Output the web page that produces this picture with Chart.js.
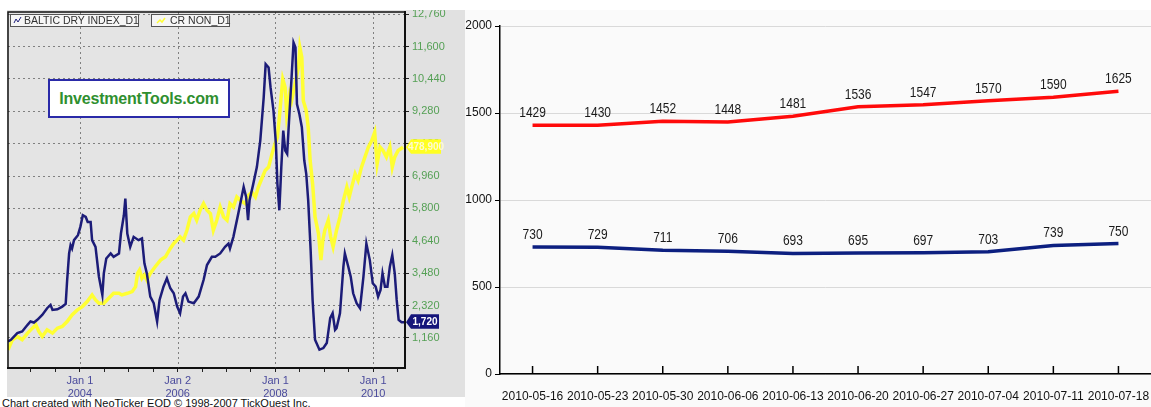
<!DOCTYPE html>
<html>
<head>
<meta charset="utf-8">
<script src="https://cdn.jsdelivr.net/npm/chart.js@4.4.0/dist/chart.umd.min.js"></script>
<style>
  body { margin: 0; width: 1151px; height: 407px; position: relative; overflow: hidden; background: #fff;
         font-family: "Liberation Sans", Arial, sans-serif; }
  #leftPanel { position: absolute; left: 7px; top: 10px; width: 458px; height: 387px; background: #e1e1e1; }
  #leftChart { position: absolute; left: 7px; top: 10px; }
  #rightPanel { position: absolute; left: 465px; top: 10px; width: 686px; height: 397px; background: #fafafa; }
  #rightChart { position: absolute; left: 465px; top: 0; }
  .legendBox { position: absolute; top: 14px; height: 11px; background: #f6f6f6; border: 1px solid #555;
               font-size: 10.5px; line-height: 11px; color: #333; white-space: nowrap; padding-left: 2px; }
  .legendBox svg { vertical-align: top; margin-right: 2px; }
  #watermark { position: absolute; left: 48px; top: 79px; width: 178px; height: 35px; background: #fff;
               border: 2px solid #2a2aa8; color: #2f8f2f; font-weight: bold; font-size: 16px;
               line-height: 35px; text-align: center; letter-spacing: -0.2px; }
  #credit { position: absolute; left: 2px; top: 397px; font-size: 11px; color: #111; white-space: nowrap; }
</style>
</head>
<body>
<div id="leftPanel"></div>
<canvas id="leftChart" width="458" height="387"></canvas>
<div class="legendBox" style="left:10px;width:125px;">
  <svg width="9" height="11"><polyline points="1,8 3,4 5,7 8,2" fill="none" stroke="#1f1f7a" stroke-width="1"/></svg>BALTIC DRY INDEX_D1
</div>
<div class="legendBox" style="left:151px;width:75px;">
  <svg width="14" height="11"><polyline points="3,8 6,5 8,7 11,3" fill="none" stroke="#ffff33" stroke-width="1.5"/></svg>CR NON_D1
</div>
<div id="watermark">InvestmentTools.com</div>
<div id="credit">Chart created with NeoTicker EOD © 1998-2007 TickQuest Inc.</div>

<div id="rightPanel"></div>
<canvas id="rightChart" width="686" height="407"></canvas>

<script>
// ---- left chart: Baltic Dry Index vs CR NON (x = decimal year) ----
const bdiYears = [2002.53, 2002.59, 2002.72, 2002.82, 2002.93, 2002.99, 2003.06, 2003.13, 2003.23, 2003.33,
  2003.40, 2003.44, 2003.54, 2003.64, 2003.71, 2003.74, 2003.78, 2003.81, 2003.84, 2003.88,
  2003.96, 2004.01, 2004.06, 2004.12, 2004.16, 2004.22, 2004.25, 2004.32, 2004.39, 2004.46,
  2004.49, 2004.54, 2004.63, 2004.69, 2004.80, 2004.84, 2004.90, 2004.93, 2004.97, 2005.03,
  2005.10, 2005.20, 2005.27, 2005.32, 2005.37, 2005.44, 2005.51, 2005.58, 2005.63, 2005.71,
  2005.78, 2005.85, 2005.92, 2005.99, 2006.05, 2006.11, 2006.16, 2006.22, 2006.33, 2006.43,
  2006.53, 2006.60, 2006.70, 2006.77, 2006.87, 2006.97, 2007.04, 2007.07, 2007.14, 2007.24,
  2007.35, 2007.40, 2007.44, 2007.47, 2007.54, 2007.62, 2007.69, 2007.76, 2007.80, 2007.86,
  2007.90, 2007.96, 2008.01, 2008.04, 2008.08, 2008.12, 2008.16, 2008.20, 2008.24, 2008.29,
  2008.33, 2008.37, 2008.41, 2008.44, 2008.49, 2008.54, 2008.59, 2008.63, 2008.67, 2008.72,
  2008.76, 2008.81, 2008.90, 2008.98, 2009.05, 2009.12, 2009.17, 2009.22, 2009.25, 2009.32,
  2009.39, 2009.42, 2009.49, 2009.54, 2009.59, 2009.66, 2009.73, 2009.80, 2009.86, 2009.93,
  2009.99, 2010.05, 2010.10, 2010.15, 2010.19, 2010.24, 2010.29, 2010.34, 2010.39, 2010.44,
  2010.48, 2010.52, 2010.58, 2010.63];
const bdiValues = [1035, 1095, 1332, 1392, 1630, 1749, 1713, 1808, 1987, 2225,
  2344, 2165, 2189, 2284, 2379, 3236, 4188, 4485, 4366, 4664,
  4842, 5140, 5556, 5496, 5318, 5318, 4664, 4426, 3355, 2701,
  3474, 4009, 4188, 4069, 4188, 4902, 5556, 6151, 4902, 4426,
  4783, 4664, 4723, 3831, 3474, 2641, 2403, 1749, 2522, 2998,
  3295, 2939, 2760, 2284, 2046, 2641, 2760, 2463, 2403, 2641,
  3236, 3771, 4069, 4069, 4188, 4426, 4545, 4366, 4783, 5615,
  6567, 6210, 5377, 6091, 6627, 7281, 8233, 9779, 10969, 10850,
  10136, 9303, 8114, 6686, 5734, 7281, 8590, 7876, 7757, 9303,
  10493, 11742, 11564, 9541, 9184, 8709, 7519, 7043, 6091, 4307,
  2522, 1095, 738, 797, 976, 1868, 2046, 1451, 1511, 2046,
  3712, 4188, 3712, 3355, 2760, 2403, 2225, 3355, 4545, 3950,
  3117, 2998, 2641, 2879, 3474, 2998, 2998, 3712, 4128, 3474,
  2522, 1808, 1720, 1720];

const crYears = [2002.53, 2002.62, 2002.72, 2002.82, 2002.93, 2003.03, 2003.10, 2003.16, 2003.23, 2003.33,
  2003.44, 2003.54, 2003.64, 2003.74, 2003.84, 2003.95, 2004.05, 2004.15, 2004.25, 2004.32,
  2004.39, 2004.49, 2004.59, 2004.69, 2004.80, 2004.86, 2004.97, 2005.07, 2005.14, 2005.18,
  2005.22, 2005.27, 2005.32, 2005.37, 2005.44, 2005.54, 2005.65, 2005.75, 2005.85, 2005.92,
  2005.99, 2006.05, 2006.12, 2006.19, 2006.26, 2006.33, 2006.39, 2006.46, 2006.53, 2006.60,
  2006.67, 2006.73, 2006.80, 2006.87, 2006.94, 2007.01, 2007.07, 2007.14, 2007.21, 2007.28,
  2007.38, 2007.45, 2007.52, 2007.59, 2007.65, 2007.72, 2007.79, 2007.86, 2007.93, 2007.99,
  2008.04, 2008.08, 2008.15, 2008.20, 2008.23, 2008.29, 2008.33, 2008.40, 2008.47, 2008.50,
  2008.54, 2008.57, 2008.63, 2008.67, 2008.71, 2008.76, 2008.81, 2008.88, 2008.93, 2008.97,
  2009.01, 2009.08, 2009.13, 2009.18, 2009.25, 2009.32, 2009.39, 2009.46, 2009.51, 2009.56,
  2009.63, 2009.69, 2009.76, 2009.83, 2009.90, 2009.97, 2010.03, 2010.08, 2010.14, 2010.20,
  2010.27, 2010.34, 2010.39, 2010.44, 2010.51, 2010.61];
const crValues = [738, 1095, 1213, 1095, 1332, 1511, 1630, 1392, 1213, 1451,
  1332, 1511, 1570, 1749, 1987, 2165, 2284, 2463, 2701, 2522,
  2403, 2403, 2582, 2760, 2760, 2701, 2760, 2820, 2998, 3474,
  3593, 3295, 3414, 3236, 3474, 3712, 3950, 4069, 4366, 4545,
  4664, 4783, 4664, 5020, 5496, 5615, 5377, 5734, 5972, 5734,
  5615, 5020, 5377, 5853, 5496, 5377, 5972, 5853, 6210, 6091,
  5972, 6270, 6389, 6210, 6567, 6864, 7162, 7281, 7757, 8114,
  8352, 9066, 10434, 10136, 9184, 9898, 9660, 10255, 10850, 11564,
  11207, 9660, 9303, 8709, 7519, 6686, 5496, 4902, 3950, 4664,
  5020, 5377, 4783, 4426, 5020, 5496, 6091, 6567, 6210, 6567,
  7043, 6805, 7281, 7638, 7995, 8233, 8530, 7400, 7995, 7876,
  7638, 7995, 7281, 7638, 7876, 7995];
const crLastLabel = '478,900';

const halfYearTicks = [2003, 2003.5, 2004, 2004.5, 2005, 2005.5, 2006, 2006.5, 2007, 2007.5,
  2008, 2008.5, 2009, 2009.5, 2010, 2010.5];
const yearTicks = [2004, 2006, 2008, 2010];
const yearTickLabels = [['Jan 1', '2004'], ['Jan 2', '2006'], ['Jan 1', '2008'], ['Jan 1', '2010']];
const priceTicks = [1160, 2320, 3480, 4640, 5800, 6960, 8120, 9280, 10440, 11600, 12760];

// ---- right chart: weekly values ----
const weeks = ['2010-05-16', '2010-05-23', '2010-05-30', '2010-06-06', '2010-06-13',
  '2010-06-20', '2010-06-27', '2010-07-04', '2010-07-11', '2010-07-18'];
const redValues = [1429, 1430, 1452, 1448, 1481, 1536, 1547, 1570, 1590, 1625];
const blueValues = [730, 729, 711, 706, 693, 695, 697, 703, 739, 750];

function noOverflow(scale) {
  scale.paddingTop = 0; scale.paddingBottom = 0; scale.paddingLeft = 0; scale.paddingRight = 0;
}

// plot box, Jan-1 grid lines and last value tags on the left chart
const leftDecor = {
  id: 'leftDecor',
  beforeDraw(chart) {
    const a = chart.chartArea, c = chart.ctx;
    c.save();
    c.fillStyle = '#e4e4e4';
    c.fillRect(a.left, a.top, a.right - a.left, a.bottom - a.top);
    c.restore();
  },
  beforeDatasetsDraw(chart) {
    const a = chart.chartArea, c = chart.ctx, xs = chart.scales.x;
    c.save();
    c.strokeStyle = '#808080';
    c.lineWidth = 1;
    c.setLineDash([2, 3]);
    yearTicks.forEach(v => {
      const x = Math.round(xs.getPixelForValue(v)) + 0.5;
      c.beginPath();
      c.moveTo(x, a.top);
      c.lineTo(x, a.bottom);
      c.stroke();
    });
    c.restore();
  },
  afterDraw(chart) {
    const a = chart.chartArea, c = chart.ctx, ys = chart.scales.y;
    c.save();
    c.strokeStyle = '#111';
    c.lineWidth = 1.5;
    c.strokeRect(a.left, a.top, a.right - a.left, a.bottom - a.top);
    const tags = [
      { value: bdiValues[bdiValues.length - 1], text: bdiValues[bdiValues.length - 1].toLocaleString('en-US'),
        bg: '#15157a', fg: '#ffffff', w: 28 },
      { value: crValues[crValues.length - 1], text: crLastLabel, bg: '#ffff22', fg: '#fffbd0', w: 30 }
    ];
    tags.forEach(t => {
      const y = ys.getPixelForValue(t.value);
      const x0 = a.right + 6;
      c.fillStyle = t.bg;
      c.beginPath();
      c.moveTo(a.right + 1, y);
      c.lineTo(x0, y - 8);
      c.lineTo(x0 + t.w, y - 8);
      c.lineTo(x0 + t.w, y + 6.5);
      c.lineTo(x0, y + 6.5);
      c.closePath();
      c.fill();
      c.fillStyle = t.fg;
      c.font = 'bold 10px "Liberation Sans", Arial';
      c.textAlign = 'center';
      c.textBaseline = 'middle';
      c.fillText(t.text, x0 + t.w / 2, y);
    });
    c.restore();
  }
};

new Chart(document.getElementById('leftChart'), {
  type: 'line',
  data: {
    datasets: [
      { label: 'BALTIC DRY INDEX_D1', data: bdiYears.map((x, i) => ({ x: x, y: bdiValues[i] })),
        borderColor: '#1c1c78', borderWidth: 2.5, pointRadius: 0, tension: 0 },
      { label: 'CR NON_D1', data: crYears.map((x, i) => ({ x: x, y: crValues[i] })),
        borderColor: '#ffff33', borderWidth: 3.5, pointRadius: 0, tension: 0 }
    ]
  },
  options: {
    responsive: false,
    animation: false,
    layout: { padding: { left: 1, top: 2, right: 0, bottom: 0 } },
    plugins: { legend: { display: false }, tooltip: { enabled: false } },
    scales: {
      x: {
        type: 'linear',
        min: 2002.53,
        max: 2010.65,
        afterBuildTicks(scale) { scale.ticks = halfYearTicks.map(v => ({ value: v })); },
        afterFit(scale) { scale.height = 29; noOverflow(scale); },
        ticks: {
          autoSkip: false, maxRotation: 0, padding: 2,
          color: '#4a4a9c', font: { family: '"Liberation Sans", Arial', size: 11 },
          callback(v) {
            const i = yearTicks.indexOf(v);
            return i >= 0 ? yearTickLabels[i] : '';
          }
        },
        grid: { drawOnChartArea: false, tickColor: '#222', tickLength: 4, tickWidth: 1 },
        border: { color: '#111', width: 2 }
      },
      y: {
        position: 'right',
        min: 83,
        max: 12840,
        afterBuildTicks(scale) { scale.ticks = priceTicks.map(v => ({ value: v })); },
        afterFit(scale) { scale.width = 60; noOverflow(scale); },
        ticks: {
          padding: 3, color: '#55a055', font: { family: '"Liberation Sans", Arial', size: 11 },
          callback: v => v.toLocaleString('en-US')
        },
        grid: { color: '#808080', tickColor: '#222', tickLength: 4 },
        border: { color: '#111', width: 2, dash: [2, 3] }
      }
    }
  },
  plugins: [leftDecor]
});

// value labels above the points + short tick marks on the right chart
const rightDecor = {
  id: 'rightDecor',
  afterDatasetsDraw(chart) {
    const c = chart.ctx;
    c.save();
    c.font = '15px "Liberation Sans", Arial';
    c.fillStyle = '#1a1a1a';
    c.textAlign = 'center';
    c.textBaseline = 'alphabetic';
    chart.data.datasets.forEach((ds, i) => {
      chart.getDatasetMeta(i).data.forEach((pt, j) => {
        c.save();
        c.translate(pt.x, pt.y - 8);
        c.scale(0.8, 1);
        c.fillText(String(ds.data[j]), 0, 0);
        c.restore();
      });
    });
    c.restore();
  },
  afterDraw(chart) {
    const c = chart.ctx, xs = chart.scales.x, a = chart.chartArea;
    c.save();
    c.strokeStyle = '#000';
    c.lineWidth = 1.5;
    weeks.forEach((w, i) => {
      const x = xs.getPixelForValue(i);
      c.beginPath();
      c.moveTo(x, a.bottom);
      c.lineTo(x, a.bottom - 8);
      c.stroke();
    });
    c.restore();
  }
};

new Chart(document.getElementById('rightChart'), {
  type: 'line',
  data: {
    labels: weeks,
    datasets: [
      { label: 'red', data: redValues, borderColor: '#ff0a0a', borderWidth: 3.5, pointRadius: 0, tension: 0 },
      { label: 'blue', data: blueValues, borderColor: '#0c1f80', borderWidth: 3.5, pointRadius: 0, tension: 0 }
    ]
  },
  options: {
    responsive: false,
    animation: false,
    layout: { padding: { top: 26, left: 0, right: 0, bottom: 0 } },
    plugins: { legend: { display: false }, tooltip: { enabled: false } },
    scales: {
      x: {
        offset: true,
        afterFit(scale) { scale.height = 33; noOverflow(scale); },
        ticks: {
          autoSkip: false, maxRotation: 0, padding: 15, color: '#111',
          font: { family: '"Liberation Sans", Arial', size: 12 }
        },
        grid: { color: 'rgba(0,0,0,0)', drawTicks: false },
        border: { color: '#000', width: 1.5 }
      },
      y: {
        min: 0,
        max: 2000,
        afterFit(scale) { scale.width = 35; noOverflow(scale); },
        ticks: {
          stepSize: 500, padding: 3, color: '#111',
          font: { family: '"Liberation Sans", Arial', size: 12 },
          callback: v => String(v)
        },
        grid: { color: '#d9d9d9', tickColor: '#000', tickLength: 5 },
        border: { color: '#000', width: 1.5 }
      }
    }
  },
  plugins: [rightDecor]
});
</script>
</body>
</html>
